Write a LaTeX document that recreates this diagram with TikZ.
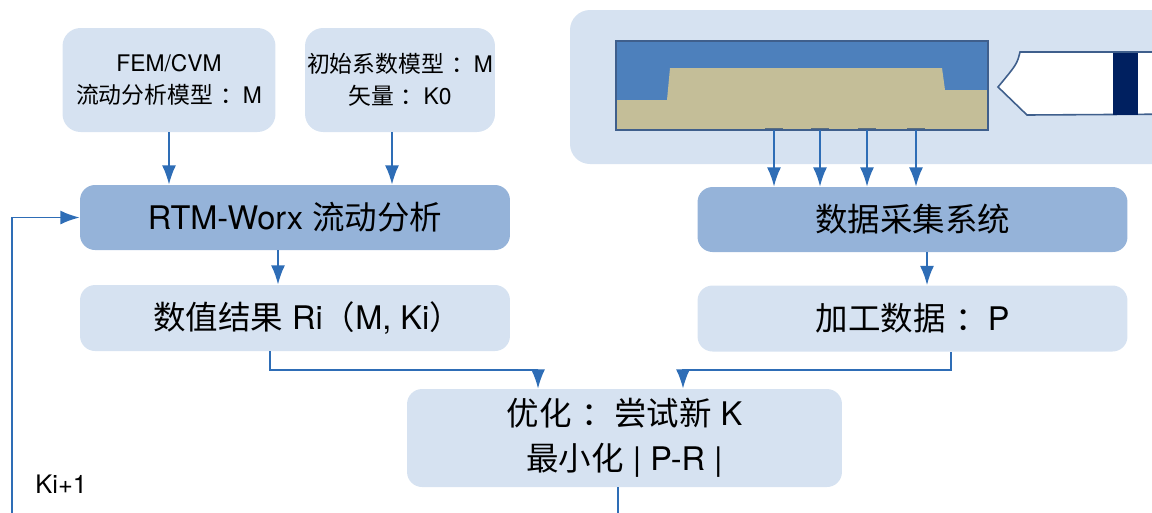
\documentclass[tikz,border=0pt]{standalone}
\usepackage{fontspec}
\setmainfont{TeX Gyre Heros}
\newfontfamily\zhfont{Noto Sans CJK SC}
\newcommand{\zh}[1]{{\zhfont #1}}
\newcommand{\zcolon}{\hspace{0.3em}\zh{：}}
\usepackage{tikz}
\usetikzlibrary{positioning}
\usetikzlibrary{arrows.meta}

\definecolor{boxlight}{HTML}{D6E2F1}
\definecolor{boxdark}{HTML}{95B3D9}
\definecolor{flowline}{HTML}{2E6DB6}
\definecolor{moldblue}{HTML}{4D80BC}
\definecolor{resin}{HTML}{C4BE98}
\definecolor{moldedge}{HTML}{3F5F8C}
\definecolor{sensor}{HTML}{5A6E80}
\definecolor{plunger}{HTML}{002060}

\begin{document}
\begin{tikzpicture}[x=0.02cm,y=-0.02cm,
	box/.style={rounded corners=0.3cm, inner sep=0pt, align=center, font=\fontsize{18.5}{25.5}\selectfont},
	input/.style={box, fill=boxlight, rounded corners=0.36cm, minimum width=4.26cm, minimum height=2.08cm, font=\fontsize{13}{18.5}\selectfont},
	solver/.style={box, fill=boxdark, minimum width=8.6cm, minimum height=1.3cm},
	result/.style={box, fill=boxlight, minimum width=8.6cm, minimum height=1.32cm},
	flow/.style={draw=flowline, line width=1.1pt, -{Latex[length=11pt,width=8pt]}}]
		\useasboundingbox (0,0) rectangle (1152,512);
		\clip (0,0) rectangle (1152,512);

		% mould with sensors and injection unit
		\fill[boxlight, rounded corners=0.4cm] (570,10) rectangle (1190,164);
		\fill[moldblue] (616,41) rectangle (988,130);
		\fill[resin] (616,130) -- (616,100) -- (667,100) -- (670,68) -- (942,68) -- (945,90) -- (988,90) -- (988,130) -- cycle;
		\draw[moldedge, line width=0.8pt] (616,41) rectangle (988,130);
		\foreach \s/\x in {1/774,2/820,3/867,4/916} {
			\draw[sensor, line width=1pt] (\x-9,128.5) -- (\x+9,128.5);
			\coordinate (s\s) at (\x,130);
		}
		\draw[moldedge, fill=white, line width=0.9pt] (1190,52) -- (1020,52) .. controls (1017,64) .. (998,87) -- (1027,115) -- (1190,114);
		\fill[plunger] (1113,52.5) rectangle (1138,114.5);

		% boxes
		\node[input] (fem) at (169,80) {FEM/CVM\\\zh{流动分析模型}\zcolon M};
		\node[input, minimum width=3.8cm] (init) at (400,80) {\zh{初始系数模型}\zcolon M\\\zh{矢量}\zcolon K0};
		\node[solver] (rtm) at (295,217.5) {RTM-Worx \zh{流动分析}};
		\node[result] (res) at (295,318) {\hspace{0.5cm}\zh{数值结果} Ri\zh{（}M, Ki\zh{）}};
		\node[solver] (daq) at (912.5,219.5) {\zh{数据采集系统}};
		\node[result] (proc) at (912.5,318.5) {\zh{加工数据}\zcolon P};
		\node[box, fill=boxlight, minimum width=8.7cm, minimum height=1.96cm] (opt) at (624.5,438) {\zh{优化}\zcolon\zh{尝试新} K\\\zh{最小化} | P-R |};
		\node[font=\fontsize{14.5}{16}\selectfont, anchor=west, inner sep=0pt] (knext) at (35,484) {Ki+1};

		% connectors
		\draw[flow] (fem.south) -- (fem.south |- rtm.north);
		\draw[flow] ([xshift=-0.16cm]init.south) -- ([xshift=-0.16cm]init.south |- rtm.north);
		\draw[flow] ([xshift=-0.34cm]rtm.south) -- ([xshift=-0.34cm]rtm.south |- res.north);
		\foreach \s in {1,...,4}
			\draw[flow] (s\s) -- (s\s |- daq.north);
		\draw[flow] ([xshift=0.29cm]daq.south) -- ([xshift=0.29cm]daq.south |- proc.north);
		\draw[flow] ([xshift=-0.5cm]res.south) -- ++(0,19) -| ([xshift=-1.73cm]opt.north);
		\draw[flow] ([xshift=0.77cm]proc.south) -- ++(0,18) -| ([xshift=1.17cm]opt.north);
		\draw[flow] ([xshift=-0.13cm]opt.south) |- (12,540) |- (rtm.west);
	\end{tikzpicture}
\end{document}
